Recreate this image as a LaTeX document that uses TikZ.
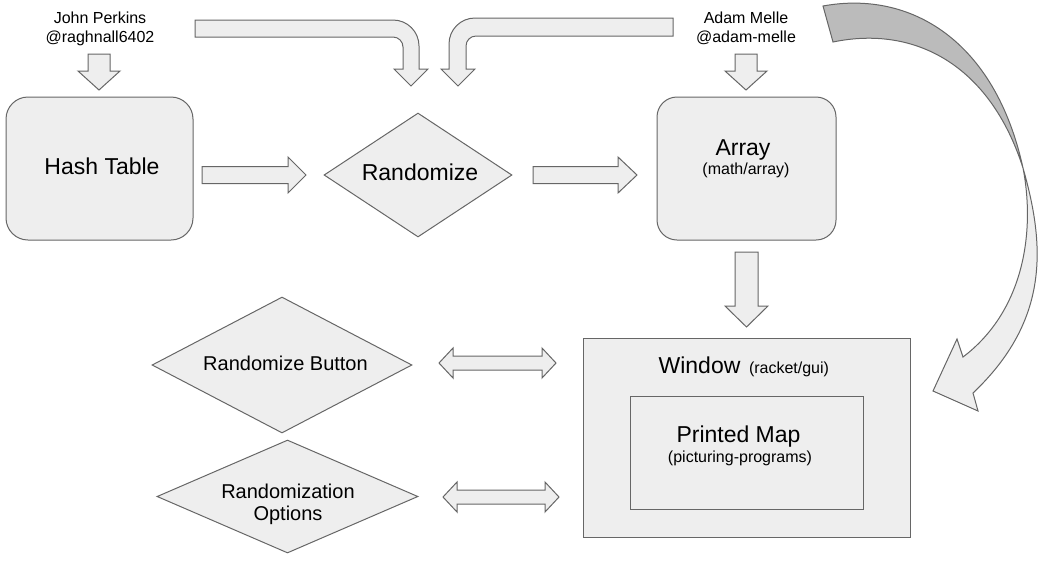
\documentclass[tikz,border=0pt]{standalone}
\usepackage{fontspec}
\setmainfont{Liberation Sans}
\usetikzlibrary{shapes.geometric}

\definecolor{edgegray}{HTML}{666666}
\definecolor{shapefill}{HTML}{EEEEEE}
\definecolor{shadefill}{HTML}{BBBBBB}

\tikzset{
  shapebox/.style={draw=edgegray, fill=shapefill, line width=1pt, inner sep=0pt},
  decision/.style={shapebox, diamond},
  blockarrow/.style={draw=edgegray, fill=shapefill, line width=1pt, line join=miter},
  bigtext/.style={font=\fontsize{23}{27}\selectfont, anchor=base, inner sep=0pt},
  midtext/.style={font=\fontsize{20}{24}\selectfont, anchor=base, inner sep=0pt},
  smalltext/.style={font=\fontsize{16}{19}\selectfont, anchor=base, inner sep=0pt},
}

\begin{document}
\begin{tikzpicture}[x=1pt,y=1pt,yscale=-1]
\useasboundingbox (0,0) rectangle (1051,566);

%Shape: Rounded Rect
\node [shapebox, rounded corners=22pt, minimum width=187pt, minimum height=143pt] (hash) at (99.5,168.5) {};
%Shape: Diamond
\node [decision, minimum width=188pt, minimum height=124pt] (rnd) at (418,175) {};
%Shape: Rounded Rect
\node [shapebox, rounded corners=20pt, minimum width=179pt, minimum height=143pt] (array) at (746.5,168.5) {};
%Shape: Rectangle
\node [shapebox, minimum width=327pt, minimum height=199pt] (window) at (746.5,437.5) {};
%Shape: Rectangle
\node [shapebox, minimum width=233pt, minimum height=113pt] (map) at (746.5,452.5) {};
%Shape: Diamond
\node [decision, minimum width=260pt, minimum height=136pt] (btn) at (282,365) {};
%Shape: Diamond
\node [decision, minimum width=261pt, minimum height=113pt] (opts) at (287.5,496.5) {};

% Text Node
\node [bigtext] (hashtext) at (102,174) {Hash Table};
\node [bigtext] (rndtext) at (420,180) {Randomize};
\node [bigtext] (arraytext) at (743,155) {Array};
\node [smalltext] (arraysub) at (746,174) {(math/array)};
\node [bigtext] (windowtext) at (699.5,373) {Window};
\node [smalltext] (windowsub) at (789,373) {(racket/gui)};
\node [bigtext] (maptext) at (738.5,442) {Printed Map};
\node [smalltext] (mapsub) at (740,462) {(picturing-programs)};
\node [midtext] (btntext) at (285.5,370) {Randomize Button};
\node [midtext] (optstext) at (288,498) {Randomization};
\node [midtext] (optstextb) at (288,520) {Options};
\node [smalltext] (john) at (100,23) {John Perkins};
\node [smalltext] (johnb) at (100,42.5) {@raghnall6402};
\node [smalltext] (adam) at (746,23) {Adam Melle};
\node [smalltext] (adamb) at (746,42.5) {@adam-melle};

% Arrow ends
\coordinate (johntail) at (99,54);
\coordinate (johntip) at (99,90);
\coordinate (adamtail) at (746,54);
\coordinate (adamtip) at (746,90);
\coordinate (arraytail) at (746.5,252);
\coordinate (windowtip) at (746.5,327);
\coordinate (hashtail) at (202,175);
\coordinate (rndtip) at (306,175);
\coordinate (rndtail) at (533,175);
\coordinate (arraytip) at (637,175);
\coordinate (btnend) at (439,363);
\coordinate (winend) at (556,363);
\coordinate (optsend) at (443,497);
\coordinate (winendb) at (559,497);
\coordinate (lefttip) at (411,86);
\coordinate (righttip) at (458,86);

%Down Arrows
\draw [blockarrow] (johntail) ++(-11,0) -- ++(0,17) -- ++(-10,0) -- (johntip) -- ++(21,-19) -- ++(-10,0) -- ++(0,-17) -- cycle;
\draw [blockarrow] (adamtail) ++(-11,0) -- ++(0,17) -- ++(-10,0) -- (adamtip) -- ++(21,-19) -- ++(-10,0) -- ++(0,-17) -- cycle;
\draw [blockarrow] (arraytail) ++(-11.5,0) -- ++(0,54) -- ++(-10,0) -- (windowtip) -- ++(21.5,-21) -- ++(-10,0) -- ++(0,-54) -- cycle;

%Right Arrows
\draw [blockarrow] (hashtail) ++(0,-8.5) -- ++(86,0) -- ++(0,-9.5) -- (rndtip) -- ++(-18,18) -- ++(0,-9.5) -- ++(-86,0) -- cycle;
\draw [blockarrow] (rndtail) ++(0,-8.5) -- ++(85,0) -- ++(0,-9.5) -- (arraytip) -- ++(-19,18) -- ++(0,-9.5) -- ++(-85,0) -- cycle;

%Double Arrows
\draw [blockarrow] (btnend) -- ++(14,-15) -- ++(0,8) -- ++(89,0) -- ++(0,-8) -- (winend) -- ++(-14,15) -- ++(0,-8) -- ++(-89,0) -- ++(0,8) -- cycle;
\draw [blockarrow] (optsend) -- ++(14,-15) -- ++(0,8) -- ++(88,0) -- ++(0,-8) -- (winendb) -- ++(-14,15) -- ++(0,-8) -- ++(-88,0) -- ++(0,8) -- cycle;

%Bent Arrows
\draw [blockarrow] (195,20) -- (393,20) .. controls (407.4,20) and (419,31.6) .. (419,46) -- (419,69) -- (428,69) -- (lefttip) -- (394,69) -- (403,69) -- (403,47) .. controls (403,41.5) and (398.5,37) .. (393,37) -- (195,37) -- cycle;
\draw [blockarrow] (673,18) -- (475,18) .. controls (460.6,18) and (449,29.6) .. (449,44) -- (449,69) -- (441,69) -- (righttip) -- (475,69) -- (466,69) -- (466,46) .. controls (466,40.5) and (470.5,36) .. (476,36) -- (673,36) -- cycle;

%Curved Arrow
\draw [blockarrow, fill=shadefill] (823,6) .. controls (910,-10) and (995,40) .. (1023,168) .. controls (990,65) and (915,25) .. (833,42) -- cycle;
\draw [blockarrow] (1023,168) .. controls (1045,245) and (1050,320) .. (973,393) -- (978,411) -- (933,391) -- (957,339) -- (963,357) .. controls (1025,310) and (1035,230) .. (1023,168) -- cycle;

\end{tikzpicture}
\end{document}
